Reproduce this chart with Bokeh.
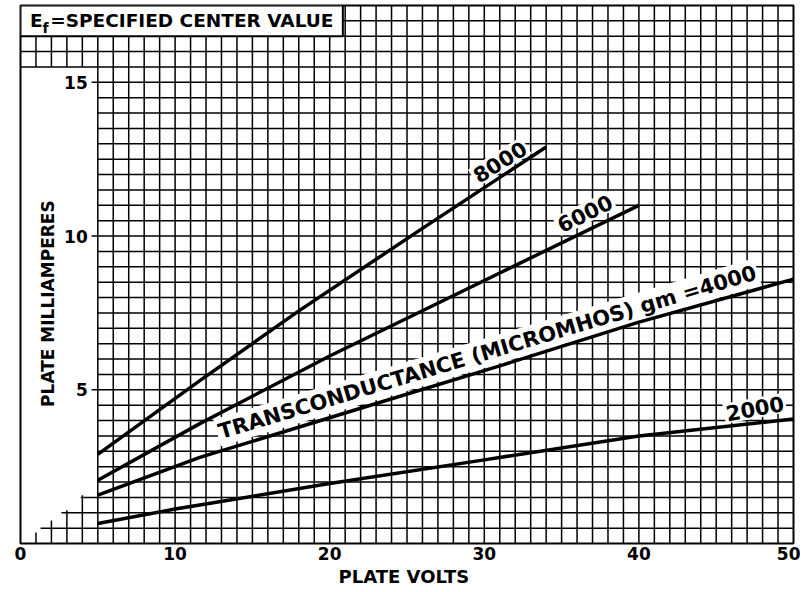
from bokeh.plotting import figure
from bokeh.embed import file_html
from bokeh.resources import INLINE
from bokeh.core.properties import value
from bokeh.models import FixedTicker

# ---- data ----
volts_8000 = [5, 11.6, 18.1, 26, 34]
ma_8000 = [2.9, 5.3, 7.6, 10.25, 12.9]
volts_6000 = [5, 11.6, 20, 31, 40]
ma_6000 = [2.06, 3.9, 6.1, 8.8, 11.0]
volts_4000 = [5, 11.6, 22, 31, 40, 50]
ma_4000 = [1.57, 2.8, 4.4, 5.78, 7.2, 8.6]
volts_2000 = [5, 10, 20, 30, 40, 50]
ma_2000 = [0.65, 1.12, 1.95, 2.72, 3.5, 4.05]

x_ticks = [0, 10, 20, 30, 40, 50]
y_ticks = [5, 10, 15]
y_tick_labels = ["5", "10", "15"]

curve_labels = ["8000", "6000", "TRANSCONDUCTANCE (MICROMHOS) gm =4000", "2000"]
label_x = [31.0, 36.5, 30.2, 47.5]
label_y = [12.42, 10.74, 6.22, 4.4]
label_angle = [32, 26, 16.6, 10.5]

FONT = "DejaVu Sans"

p = figure(width=800, height=590, x_range=(0, 50), y_range=(0, 17.5),
           output_backend="svg", toolbar_location=None,
           min_border_left=20, min_border_right=7, min_border_top=5, min_border_bottom=47)
p.grid.visible = False
p.yaxis.visible = False
p.outline_line_color = "black"
p.outline_line_width = 2
p.background_fill_color = "white"

ax = p.xaxis[0]
ax.ticker = FixedTicker(ticks=x_ticks)
ax.axis_line_color = None
ax.major_tick_line_color = None
ax.minor_tick_line_color = None
ax.major_tick_out = 0
ax.major_tick_in = 0
ax.minor_tick_out = 0
ax.minor_tick_in = 0
ax.major_label_standoff = 3
ax.major_label_text_font = FONT
ax.major_label_text_font_size = "17px"
ax.major_label_text_font_style = "bold"
ax.major_label_text_color = "black"
ax.axis_label = "PLATE  VOLTS"
ax.axis_label_text_font = FONT
ax.axis_label_text_font_size = "18px"
ax.axis_label_text_font_style = "bold"
ax.axis_label_text_color = "black"
ax.axis_label_standoff = 3

# ---- grid ----
gx0, gy0, gx1, gy1 = [], [], [], []
for v in range(5, 50):
    gx0.append(v); gy0.append(0); gx1.append(v); gy1.append(17.5)
for i in range(1, 35):
    y = i * 0.5
    gx0.append(5); gy0.append(y); gx1.append(50); gy1.append(y)
for v in range(1, 5):
    gx0.append(v); gy0.append(15.5); gx1.append(v); gy1.append(16.5)
for y in [15.5, 16.0, 16.5]:
    gx0.append(0); gy0.append(y); gx1.append(5); gy1.append(y)
stair_v_x = [1, 2, 3, 4]
stair_v_top = [0.36, 0.75, 1.08, 1.57]
stair_h_y = [0.5, 1.0, 1.5]
stair_h_x = [1.3, 2.65, 3.9]
for v, t in zip(stair_v_x, stair_v_top):
    gx0.append(v); gy0.append(0); gx1.append(v); gy1.append(t)
for y, s in zip(stair_h_y, stair_h_x):
    gx0.append(s); gy0.append(y); gx1.append(5); gy1.append(y)
for y in y_ticks:
    gx0.append(4.6); gy0.append(y); gx1.append(5); gy1.append(y)

p.segment(gx0, gy0, gx1, gy1, line_color="black", line_width=1.5)

# title box
p.quad(left=[0], right=[20.85], bottom=[16.5], top=[17.5], fill_color="white",
       line_color="black", line_width=2)
p.text(x=[0.62], y=[17.0], text=["E"], text_font=value(FONT), text_font_style="bold",
       text_font_size="18.5px", text_baseline="middle", text_align="left", text_color="black")
p.text(x=[1.42], y=[16.76], text=["f"], text_font=value(FONT), text_font_style="bold",
       text_font_size="14px", text_baseline="middle", text_align="left", text_color="black")
p.text(x=[1.92], y=[17.0], text=["=SPECIFIED  CENTER  VALUE"], text_font=value(FONT),
       text_font_style="bold", text_font_size="18.5px", text_baseline="middle",
       text_align="left", text_color="black")

# curve labels with white background (drawn under the curves)
for t, x, y, a in zip(curve_labels, label_x, label_y, label_angle):
    p.text(x=[x], y=[y], text=[t], angle=a, angle_units="deg", text_font=value(FONT),
           text_font_style="bold", text_font_size="21px", text_align="center",
           text_baseline="alphabetic", text_color="black",
           background_fill_color="white", padding=2)

# curves
for xs, ys in [(volts_8000, ma_8000), (volts_6000, ma_6000),
               (volts_4000, ma_4000), (volts_2000, ma_2000)]:
    p.line(xs, ys, line_color="black", line_width=3.5, line_join="round")

# y tick labels
p.text(x=[4.35] * 3, y=y_ticks, text=y_tick_labels, text_font=value(FONT),
       text_font_style="bold", text_font_size="17px", text_align="right",
       text_baseline="middle", text_color="black")

# y axis title
p.text(x=[1.75], y=[7.9], text=["PLATE  MILLIAMPERES"], angle=90, angle_units="deg",
       text_font=value(FONT), text_font_style="bold", text_font_size="17px",
       text_align="center", text_baseline="middle", text_color="black")

open("out.html", "w").write(file_html(p, INLINE))
